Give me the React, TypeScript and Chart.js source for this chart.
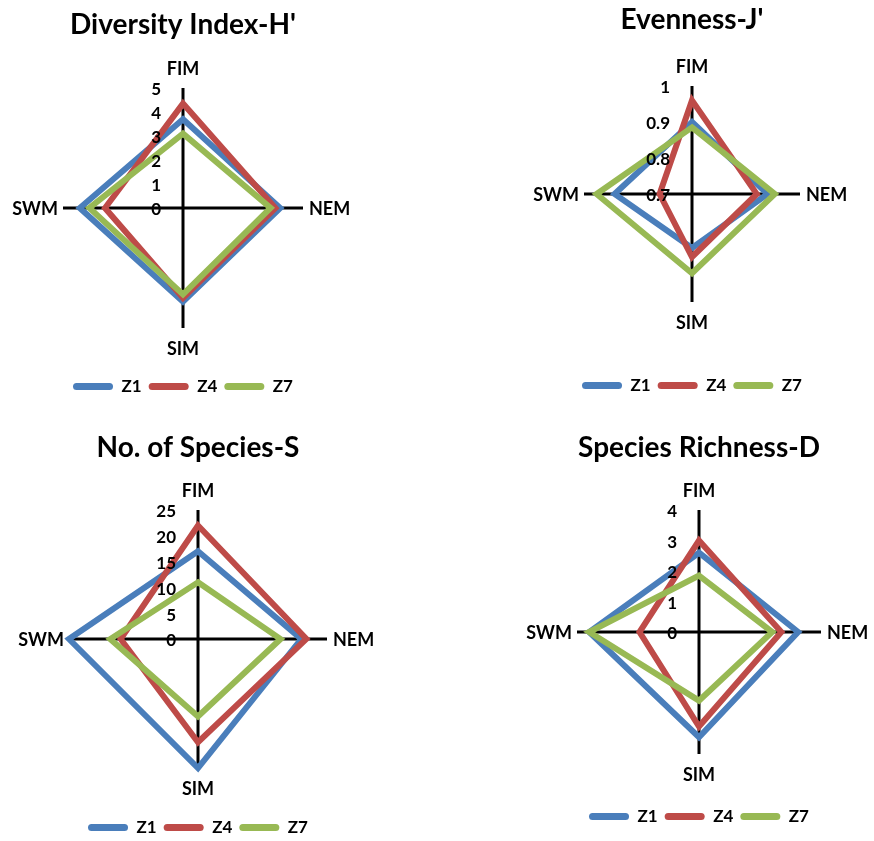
import React, { useEffect, useRef } from 'react';
import { Chart, registerables } from 'chart.js';

Chart.register(...registerables);

// ---------- data ----------
const categories = ['FIM', 'NEM', 'SIM', 'SWM'];
const seriesNames = ['Z1', 'Z4', 'Z7'];
const seriesColors = ['#4A7EBB', '#BE4B48', '#98B954'];

const diversityZ1 = [3.7, 4.05, 3.9, 4.3];
const diversityZ4 = [4.35, 3.85, 3.75, 3.25];
const diversityZ7 = [3.1, 3.65, 3.6, 3.9];

const evennessZ1 = [0.9, 0.91, 0.85, 0.915];
const evennessZ4 = [0.96, 0.88, 0.875, 0.79];
const evennessZ7 = [0.885, 0.93, 0.92, 0.965];

const speciesZ1 = [17, 20, 25, 25];
const speciesZ4 = [22, 21, 20, 15];
const speciesZ7 = [11, 16, 15, 17];

const richnessZ1 = [2.6, 3.25, 3.45, 3.6];
const richnessZ4 = [3.0, 2.7, 3.1, 1.95];
const richnessZ7 = [1.85, 2.4, 2.25, 3.6];

const titles = ["Diversity Index-H'", "Evenness-J'", 'No. of Species-S', 'Species Richness-D'];
const axisMin = [0, 0.7, 0, 0];
const axisMax = [5, 1, 25, 4];
const axisStep = [1, 0.1, 5, 1];

// ---------- layout (positions only) ----------
const panels = [
  { x0: 0, y0: 0, w: 437, h: 420, cx: 183, cy: 207, r: 119, ty: 25, ly: 387 },
  { x0: 437, y0: 0, w: 437, h: 420, cx: 692, cy: 193, r: 107, ty: 20, ly: 386 },
  { x0: 0, y0: 420, w: 437, h: 430, cx: 198, cy: 638, r: 128, ty: 448, ly: 828 },
  { x0: 437, y0: 420, w: 437, h: 430, cx: 699, cy: 631, r: 121, ty: 448, ly: 817 },
];

const chartValues = [
  [diversityZ1, diversityZ4, diversityZ7],
  [evennessZ1, evennessZ4, evennessZ7],
  [speciesZ1, speciesZ4, speciesZ7],
  [richnessZ1, richnessZ4, richnessZ7],
];

const FONT = "Lato, 'DejaVu Sans', sans-serif";
const TITLE_SIZE = 28;
const LEGEND_SIZE = 17;

Chart.defaults.font.family = FONT;
Chart.defaults.color = '#000';

const axisTextPlugin = {
  id: 'axisText',
  afterDatasetsDraw(chart: any) {
    const scale = chart.scales.r;
    const ctx = chart.ctx;
    ctx.save();
    ctx.fillStyle = '#000';
    ctx.textBaseline = 'middle';
    ctx.font = `bold 17px ${FONT}`;
    ctx.textAlign = 'right';
    scale.ticks.forEach((t: any) => {
      const d = scale.getDistanceFromCenterForValue(t.value);
      ctx.fillText(String(t.label), scale.xCenter - 22, scale.yCenter - d + 2);
    });
    ctx.font = `bold 18px ${FONT}`;
    (chart.data.labels as string[]).forEach((lab, i) => {
      const p = scale.getPointPosition(i, scale.drawingArea);
      const dx = p.x - scale.xCenter;
      const dy = p.y - scale.yCenter;
      if (Math.abs(dx) > Math.abs(dy)) {
        ctx.textAlign = dx > 0 ? 'left' : 'right';
        ctx.fillText(lab, p.x + (dx > 0 ? 6 : -5), p.y + 1);
      } else {
        ctx.textAlign = 'center';
        ctx.fillText(lab, p.x, p.y + (dy < 0 ? -19 : 21));
      }
    });
    ctx.restore();
  },
};

function RadarPanel({ index }: { index: number }) {
  const ref = useRef<HTMLCanvasElement | null>(null);
  const p = panels[index];

  useEffect(() => {
    if (!ref.current) return;
    const tyRel = p.ty - p.y0;
    const lyRel = p.ly - p.y0;
    const cyRel = p.cy - p.y0;
    const half = (TITLE_SIZE * 1.2) / 2;
    const T0 = tyRel + half;
    const B0 = lyRel - 18;
    const T = cyRel - p.r + 0.3;
    const B = cyRel + p.r + 0.3;
    const b = Math.max(0, T - T0);
    const s = Math.max(0, B0 - B);
    const hw = Math.min(p.cx - p.x0, p.x0 + p.w - p.cx) - 2;
    const pl = p.cx - hw - p.x0;
    const pr = p.x0 + p.w - (p.cx + hw);
    const pb = p.h - lyRel - 18;

    const chart = new Chart(ref.current, {
      type: 'radar',
      data: {
        labels: categories,
        datasets: seriesNames.map((name, i) => ({
          label: name,
          data: chartValues[index][i],
          borderColor: seriesColors[i],
          backgroundColor: seriesColors[i],
          borderWidth: 6,
          borderJoinStyle: 'miter',
          pointRadius: 0,
          pointHoverRadius: 0,
          fill: false,
          tension: 0,
          order: 3 - i,
        })),
      },
      options: {
        responsive: false,
        animation: false,
        events: [],
        layout: { padding: { left: pl, right: pr, top: 0, bottom: pb } },
        scales: {
          r: {
            min: axisMin[index],
            max: axisMax[index],
            ticks: {
              display: false,
              stepSize: axisStep[index],
              callback: (v: number) => String(Number(v.toFixed(3))),
            },
            grid: { display: false },
            angleLines: { display: true, color: '#000', lineWidth: 3 },
            pointLabels: { display: false },
          },
        },
        plugins: {
          title: {
            display: true,
            text: titles[index],
            color: '#000',
            font: { size: TITLE_SIZE, weight: 'bold', family: FONT },
            padding: { top: tyRel - half, bottom: b },
          },
          subtitle: {
            display: s > 0,
            position: 'bottom',
            weight: 500,
            text: '',
            font: { size: 1, lineHeight: 1 },
            padding: { top: Math.max(0, s - 1), bottom: 0 },
          },
          legend: {
            display: true,
            position: 'bottom',
            labels: {
              boxWidth: 40,
              boxHeight: 7,
              padding: 7,
              color: '#000',
              font: { size: LEGEND_SIZE, weight: 'bold', family: FONT },
              generateLabels: (c: any) =>
                c.data.datasets.map((ds: any, i: number) => ({
                  text: ds.label,
                  fillStyle: ds.borderColor,
                  strokeStyle: ds.borderColor,
                  lineWidth: 0,
                  borderRadius: 3.5,
                  hidden: false,
                  datasetIndex: i,
                  fontColor: '#000',
                })),
            },
          },
          tooltip: { enabled: false },
        },
      } as any,
      plugins: [axisTextPlugin],
    });
    return () => chart.destroy();
  }, []);

  return (
    <canvas
      ref={ref}
      width={p.w}
      height={p.h}
      style={{ position: 'absolute', left: p.x0, top: p.y0, width: p.w, height: p.h }}
    />
  );
}

export default function App() {
  return (
    <div
      style={{
        position: 'absolute',
        left: 0,
        top: 0,
        width: 874,
        height: 841,
        overflow: 'hidden',
        background: '#fff',
      }}
    >
      {panels.map((_, i) => (
        <RadarPanel key={i} index={i} />
      ))}
    </div>
  );
}
